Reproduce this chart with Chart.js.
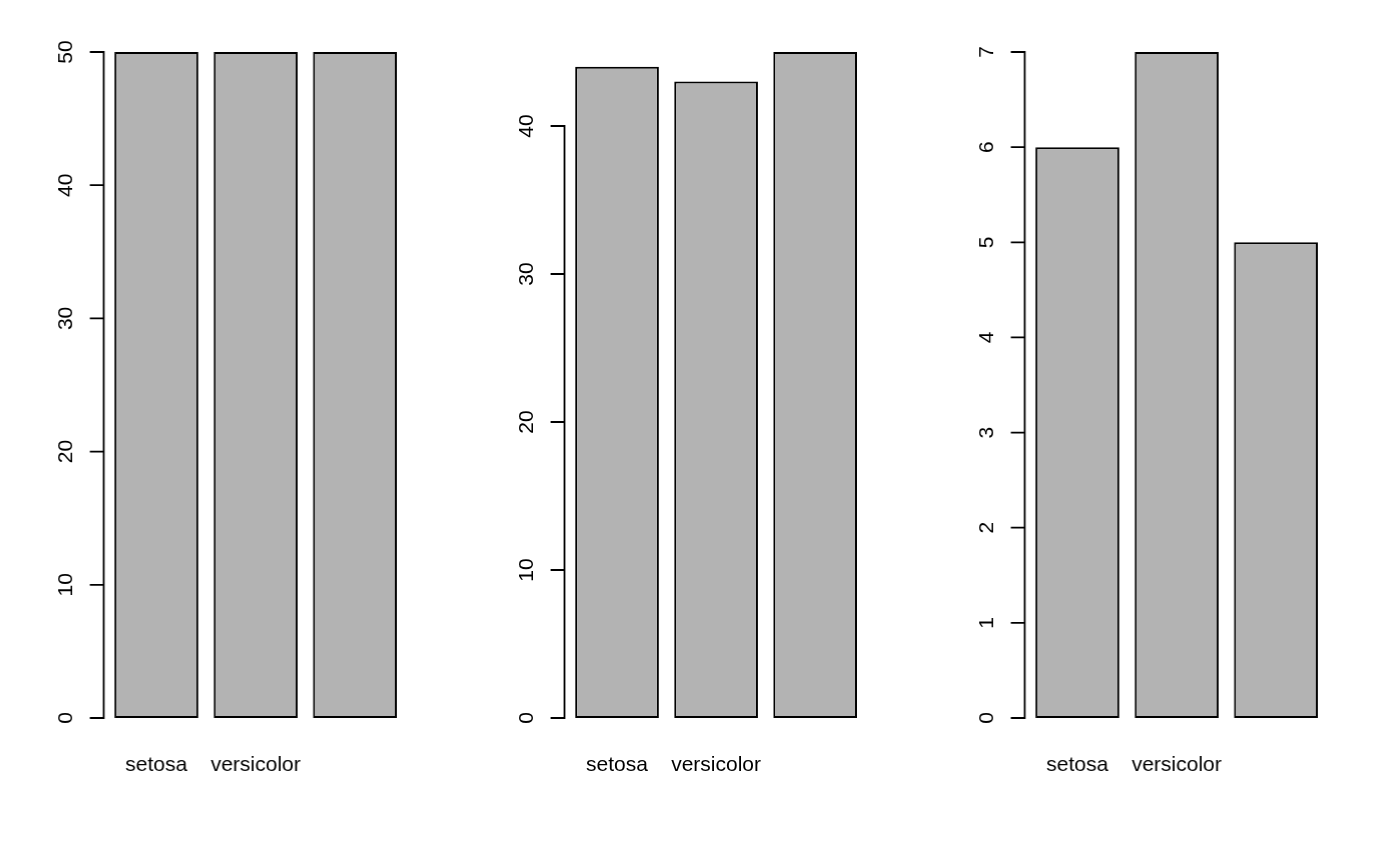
<!DOCTYPE html>
<html>
<head>
<meta charset="utf-8">
<script src="https://cdn.jsdelivr.net/npm/chart.js@4"></script>
<style>
  html, body { margin: 0; padding: 0; background: #fff; }
  #wrap { position: relative; width: 1382px; height: 854px; overflow: hidden; }
  .panel { position: absolute; top: 0; width: 460.67px; height: 854px; }
</style>
</head>
<body>
<div id="wrap">
  <div class="panel" style="left:0px"><canvas id="c1"></canvas></div>
  <div class="panel" style="left:460.67px"><canvas id="c2"></canvas></div>
  <div class="panel" style="left:921.33px"><canvas id="c3"></canvas></div>
</div>
<script>
// --- Data ---
const species = ['setosa', 'versicolor', 'virginica'];

const counts1 = [50, 50, 50];
const counts2 = [44, 43, 45];
const counts3 = [6, 7, 5];

const ticks1 = [0, 10, 20, 30, 40, 50];
const ticks2 = [0, 10, 20, 30, 40];
const ticks3 = [0, 1, 2, 3, 4, 5, 6, 7];

const FONT = '21px "Liberation Sans", Arial, sans-serif';

// R-style axes: axis line spans first..last tick, rotated labels,
// category labels dropped when they would crowd each other (like R does)
function rAxes(tickVals) {
    return {
        id: 'rAxes',
        afterDraw: (chart) => {
            const ctx = chart.ctx;
            const xs = chart.scales.x;
            const ys = chart.scales.y;
            const ax = chart.chartArea.left - 3;
            ctx.save();
            ctx.strokeStyle = '#000';
            ctx.lineWidth = 1.8;
            ctx.lineCap = 'square';
            ctx.beginPath();
            ctx.moveTo(ax, ys.getPixelForValue(tickVals[0]));
            ctx.lineTo(ax, ys.getPixelForValue(tickVals[tickVals.length - 1]));
            tickVals.forEach(v => {
                const y = ys.getPixelForValue(v);
                ctx.moveTo(ax, y);
                ctx.lineTo(ax - 13, y);
            });
            ctx.stroke();

            ctx.fillStyle = '#000';
            ctx.font = FONT;
            tickVals.forEach(v => {
                const y = ys.getPixelForValue(v);
                ctx.save();
                ctx.translate(ax - 37, y);
                ctx.rotate(-Math.PI / 2);
                ctx.textAlign = 'center';
                ctx.textBaseline = 'middle';
                ctx.fillText(String(v), 0, 0);
                ctx.restore();
            });

            // category labels
            ctx.textAlign = 'center';
            ctx.textBaseline = 'alphabetic';
            const gap = 1.2 * ctx.measureText('m').width;
            let lastRight = -Infinity;
            chart.data.labels.forEach((lab, i) => {
                const x = xs.getPixelForValue(i);
                const w = ctx.measureText(lab).width;
                if (x - w / 2 < lastRight + gap) return;
                ctx.fillText(lab, x, 771);
                lastRight = x + w / 2;
            });
            ctx.restore();
        }
    };
}

function makePanel(canvasId, values, tickVals, yMax) {
    const ctx = document.getElementById(canvasId).getContext('2d');
    return new Chart(ctx, {
        type: 'bar',
        data: {
            labels: species,
            datasets: [{
                data: values,
                backgroundColor: '#b3b3b3',
                borderColor: '#000',
                borderWidth: 2,
                borderSkipped: false,
                categoryPercentage: 1,
                barPercentage: 0.845,
            }]
        },
        options: {
            responsive: true,
            maintainAspectRatio: false,
            animation: false,
            layout: { padding: { left: 106.5, right: 57, top: 52, bottom: 136 } },
            plugins: { legend: { display: false }, tooltip: { enabled: false } },
            scales: {
                x: { display: false },
                y: { display: false, min: 0, max: yMax }
            }
        },
        plugins: [rAxes(tickVals)]
    });
}

makePanel('c1', counts1, ticks1, 50);
makePanel('c2', counts2, ticks2, 45);
makePanel('c3', counts3, ticks3, 7);
</script>
</body>
</html>
